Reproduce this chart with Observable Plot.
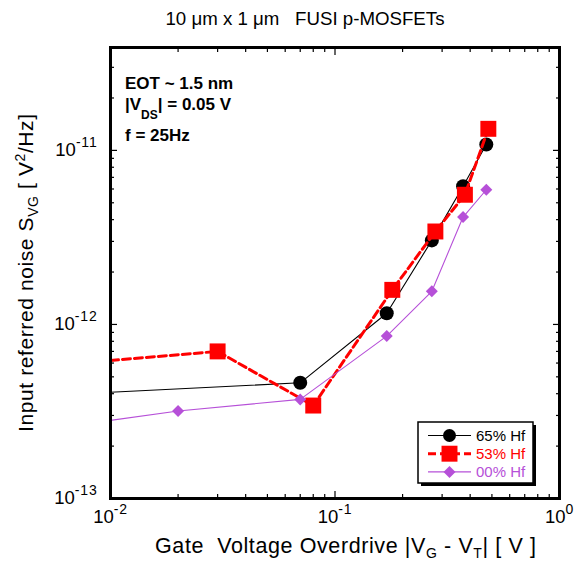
<!DOCTYPE html>
<html><head><meta charset="utf-8">
<script src="https://cdn.jsdelivr.net/npm/d3@7"></script>
<script src="https://cdn.jsdelivr.net/npm/@observablehq/plot@0.6"></script>
<style>body{margin:0;background:#fff;} svg{display:block}</style>
</head><body><div id="chart"></div>
<script>
const FONT = '"Liberation Sans", Arial, Helvetica, sans-serif';
const titleText = "10 \u03bcm x 1 \u03bcm   FUSI p-MOSFETs";
const seriesNames = ["65% Hf", "53% Hf", "00% Hf"];
const seriesColors = ["#000000", "#ff0000", "#b650d8"];

// 65% Hf
const hf65X = [0.01, 0.07, 0.17, 0.27, 0.372, 0.472];
const hf65Y = [4.08e-13, 4.62e-13, 1.16e-12, 3.04e-12, 6.23e-12, 1.08e-11];
// 53% Hf
const hf53X = [0.01, 0.030, 0.080, 0.180, 0.280, 0.379, 0.482];
const hf53Y = [6.21e-13, 7.0e-13, 3.42e-13, 1.58e-12, 3.42e-12, 5.56e-12, 1.33e-11];
// 00% Hf
const hf00X = [0.01, 0.02, 0.07, 0.17, 0.27, 0.372, 0.472];
const hf00Y = [2.81e-13, 3.18e-13, 3.71e-13, 8.57e-13, 1.55e-12, 4.14e-12, 5.94e-12];

const majorX = [0.01, 0.1, 1];
const xTickLabels = ["10^-2", "10^-1", "10^0"];
const majorY = [1e-13, 1e-12, 1e-11];
const yTickLabels = ["10^-13", "10^-12", "10^-11"];
const minorMult = [2, 3, 4, 5, 6, 7, 8, 9];
const minorX = [0.01, 0.1].flatMap(d => minorMult.map(k => k * d));
const minorY = [1e-13, 1e-12, 1e-11].flatMap(d => minorMult.map(k => k * d)).filter(v => v < 3.9e-11);

function rows(xs, ys) { return xs.map((x, i) => ({x, y: ys[i]})); }
const d65 = rows(hf65X, hf65Y), d53 = rows(hf53X, hf53Y), d00 = rows(hf00X, hf00Y);
const markerRows = d => d.filter(r => r.x > 0.01);

const tickFmt = (labels, ticks) => v => labels[ticks.findIndex(t => Math.abs(Math.log10(t) - Math.log10(v)) < 1e-6)] ?? "";

const chart = Plot.plot({
  width: 577, height: 566,
  marginLeft: 110, marginRight: 18, marginTop: 47, marginBottom: 68,
  style: {fontFamily: FONT, background: "#fff", color: "#000"},
  x: {type: "log", domain: [0.01, 1]},
  y: {type: "log", domain: [1e-13, 3.9e-11]},
  marks: [
    Plot.line(d65, {x: "x", y: "y", stroke: seriesColors[0], strokeWidth: 1.1}),
    Plot.dot(markerRows(d65), {x: "x", y: "y", symbol: "circle", r: 7, fill: seriesColors[0]}),
    Plot.line(d53, {x: "x", y: "y", stroke: seriesColors[1], strokeWidth: 3, strokeDasharray: "8,4"}),
    Plot.dot(markerRows(d53), {x: "x", y: "y", symbol: "square", r: 9, fill: seriesColors[1]}),
    Plot.line(d00, {x: "x", y: "y", stroke: seriesColors[2], strokeWidth: 1.1}),
    Plot.dot(markerRows(d00), {x: "x", y: "y", symbol: "diamond2", r: 5.4, fill: seriesColors[2]}),
    // inward ticks on all four sides
    Plot.axisX(majorX, {anchor: "bottom", tickSize: -7, tickFormat: () => "", label: null, strokeWidth: 1.2}),
    Plot.axisX(majorX, {anchor: "top", tickSize: -7, tickFormat: () => "", label: null, strokeWidth: 1.2}),
    Plot.axisX(minorX, {anchor: "bottom", tickSize: -4, tickFormat: () => "", label: null, strokeWidth: 1.2}),
    Plot.axisX(minorX, {anchor: "top", tickSize: -4, tickFormat: () => "", label: null, strokeWidth: 1.2}),
    Plot.axisY(majorY, {anchor: "left", tickSize: -7, tickFormat: () => "", label: null, strokeWidth: 1.2}),
    Plot.axisY(majorY, {anchor: "right", tickSize: -7, tickFormat: () => "", label: null, strokeWidth: 1.2}),
    Plot.axisY(minorY, {anchor: "left", tickSize: -4, tickFormat: () => "", label: null, strokeWidth: 1.2}),
    Plot.axisY(minorY, {anchor: "right", tickSize: -4, tickFormat: () => "", label: null, strokeWidth: 1.2}),
    // tick labels
    Plot.axisX(majorX, {anchor: "bottom", tickSize: 0, tickPadding: 12, tickFormat: tickFmt(xTickLabels, majorX), label: null}),
    Plot.axisY(majorY, {anchor: "left", tickSize: 0, tickPadding: 13, tickFormat: tickFmt(yTickLabels, majorY), label: null}),
    Plot.frame({stroke: "#000", strokeWidth: 3})
  ]
});
document.getElementById("chart").appendChild(chart);

const svg = d3.select(chart);
svg.attr("font-family", FONT);

function supLabels(sel) {
  sel.each(function () {
    const t = d3.select(this);
    const s = t.text();
    if (!s.includes("^")) return;
    const [base, exp] = s.split("^");
    t.text(null).attr("font-size", 18).style("font-size", "18px").style("font-variant", "normal");
    t.append("tspan").style("font-size", "18.5px").text(base);
    t.append("tspan").style("font-size", "14px").style("letter-spacing", "0.8px").attr("dy", -9).text(exp);
  });
}
supLabels(svg.selectAll('g[aria-label="x-axis tick label"] text'));
supLabels(svg.selectAll('g[aria-label="y-axis tick label"] text'));

// title
svg.append("text").attr("x", 305).attr("y", 25).attr("text-anchor", "middle")
  .style("font-size", "18.7px").style("white-space", "pre").text(titleText);

// x label
const xl = svg.append("text").attr("x", 155).attr("y", 553).attr("text-anchor", "start")
  .style("font-size", "21.5px").style("letter-spacing", "0.6px").style("white-space", "pre");
xl.append("tspan").text("Gate  Voltage Overdrive |V");
xl.append("tspan").style("font-size", "14px").attr("dy", 5).text("G");
xl.append("tspan").attr("dy", -5).text(" - V");
xl.append("tspan").style("font-size", "14px").attr("dy", 5).text("T");
xl.append("tspan").attr("dy", -5).text("| [ V ]");

// y label
const yl = svg.append("text").attr("transform", "translate(33,432) rotate(-90)")
  .attr("text-anchor", "start").style("font-size", "21px").style("letter-spacing", "0.6px").style("white-space", "pre");
yl.append("tspan").text("Input referred noise S");
yl.append("tspan").style("font-size", "14px").attr("dy", 5).text("VG");
yl.append("tspan").attr("dy", -5).text(" [ V");
yl.append("tspan").style("font-size", "14px").attr("dy", -8).text("2");
yl.append("tspan").attr("dy", 8).text("/Hz]");

// annotation
const ann = svg.append("g").attr("text-anchor", "start").style("font-weight", "bold").style("font-size", "17px");
ann.append("text").attr("x", 125).attr("y", 89).text("EOT ~ 1.5 nm");
const a2 = ann.append("text").attr("x", 125).attr("y", 110);
a2.append("tspan").text("|V");
a2.append("tspan").style("font-size", "12px").attr("dy", 9).text("DS");
a2.append("tspan").attr("dy", -9).text("| = 0.05 V");
ann.append("text").attr("x", 125).attr("y", 140.5).text("f = 25Hz");

// legend
const lg = svg.append("g").attr("text-anchor", "start");
lg.append("rect").attr("x", 421).attr("y", 425).attr("width", 115).attr("height", 61).attr("fill", "#000");
lg.append("rect").attr("x", 418).attr("y", 422).attr("width", 115).attr("height", 61)
  .attr("fill", "#fff").attr("stroke", "#000").attr("stroke-width", 1.5);
const legendSymbols = [d3.symbolCircle, d3.symbolSquare, d3.symbolDiamond2];
const legendR = [6.5, 9, 5.4];
const legendDash = [null, "8,4", null];
const legendW = [1.1, 3, 1.1];
seriesNames.forEach((name, i) => {
  const y = 435.5 + i * 18.2;
  lg.append("line").attr("x1", 428).attr("x2", 471).attr("y1", y).attr("y2", y)
    .attr("stroke", seriesColors[i]).attr("stroke-width", legendW[i]).attr("stroke-dasharray", legendDash[i]);
  lg.append("path").attr("transform", `translate(449.5,${y})`)
    .attr("d", d3.symbol().type(legendSymbols[i]).size(Math.PI * legendR[i] ** 2)())
    .attr("fill", seriesColors[i]);
  lg.append("text").attr("x", 476).attr("y", y + 5.5).style("font-size", "15px")
    .attr("fill", seriesColors[i]).text(name);
});
</script>
</body></html>
